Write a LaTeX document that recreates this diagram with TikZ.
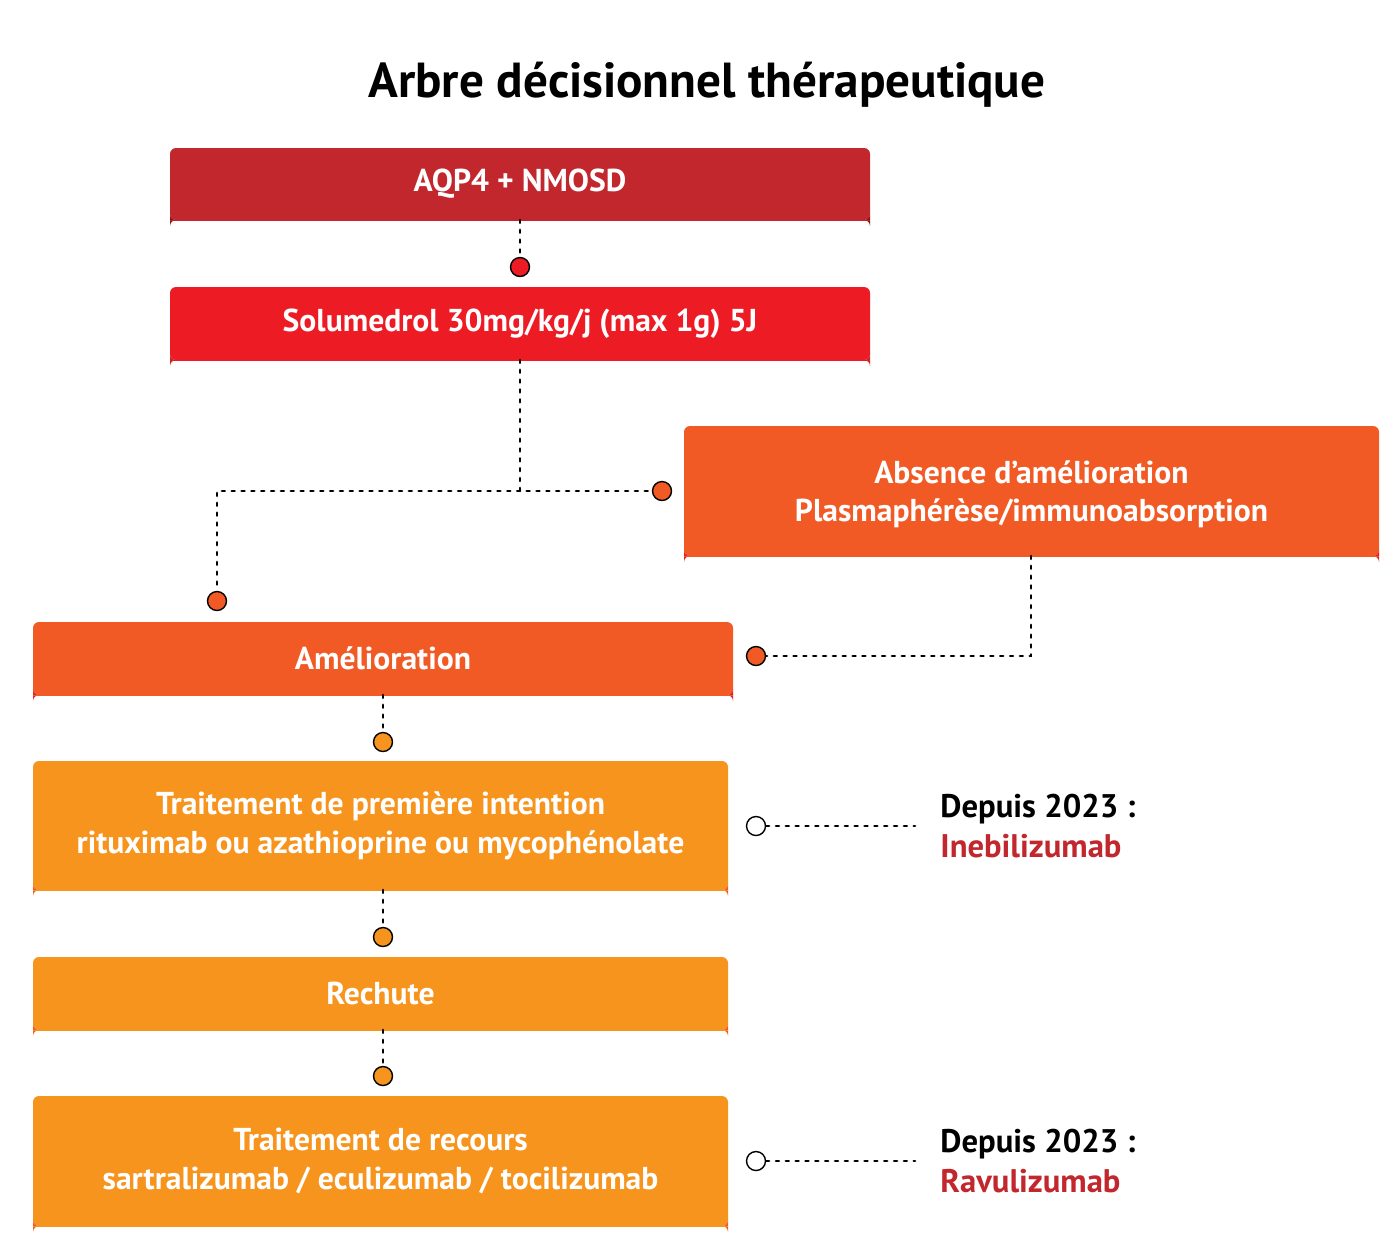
\documentclass[tikz,border=0pt]{standalone}
\usepackage{fontspec}
\setmainfont{PT Sans}
\usetikzlibrary{positioning,calc}
\definecolor{darkred}{HTML}{C1272D}
\definecolor{darkerred}{HTML}{8E0F14}
\definecolor{brightred}{HTML}{ED1C24}
\definecolor{redorange}{HTML}{F15A24}
\definecolor{lightorange}{HTML}{F7941D}
\tikzset{
  box/.style={text=white,font=\bfseries\fontsize{9pt}{11pt}\selectfont,align=center,inner sep=0pt},
  link/.style={dotted,thick,line cap=round},
  dot/.style={circle,draw=black,thin,minimum size=1.9mm,inner sep=0pt},
}
% filled box with a coloured bottom edge
\newcommand{\stepbox}[7]{% name, x1, y1, x2, y2, fill, edge
  \fill[#6,rounded corners=0.6mm] (#2,#3) rectangle (#4,#5);
  \fill[#7,rounded corners=0.6mm] (#2,#5) rectangle (#4,#5+0.05);
  \fill[#6] (#2,#5+0.05) rectangle (#4,#5+0.15);
  \coordinate (#1) at ($(#2,#3)!0.5!(#4,#5)+(0,0.03)$);
}
\begin{document}
\begin{tikzpicture}[x=0.1mm,y=-0.1mm]
  \useasboundingbox[fill=white] (0,0) rectangle (1400,1251);
  \node[font=\bfseries\fontsize{14pt}{16pt}\selectfont] (title) at (707,85) {Arbre décisionnel thérapeutique};

  \stepbox{aqp}{170}{148}{870}{220}{darkred}{darkerred}
  \node[box] (aqpt) at (aqp) {AQP4 + NMOSD};
  \stepbox{solu}{170}{287}{870}{360}{brightred}{darkred}
  \node[box] (solut) at (solu) {Solumedrol 30mg/kg/j (max 1g) 5J};
  \stepbox{abs}{684}{426}{1379}{556}{redorange}{brightred}
  \node[box,text depth=0pt] (abst) at (abs) {Absence d’amélioration\\Plasmaphérèse/immunoabsorption};
  \stepbox{amel}{33}{622}{733}{695}{redorange}{brightred}
  \node[box] (amelt) at (amel) {Amélioration};
  \stepbox{first}{33}{761}{728}{890}{lightorange}{redorange}
  \node[box] (firstt) at (first) {Traitement de première intention\\rituximab ou azathioprine ou mycophénolate};
  \stepbox{rech}{33}{957}{728}{1030}{lightorange}{redorange}
  \node[box] (recht) at (rech) {Rechute};
  \stepbox{recours}{33}{1096}{728}{1226}{lightorange}{redorange}
  \node[box] (recourst) at (recours) {Traitement de recours\\sartralizumab / eculizumab / tocilizumab};

  % connectors
  \node[dot,fill=brightred] (d1) at (520,267) {};
  \draw[link] (520,220) -- (d1);
  \coordinate (split) at (520,491);
  \node[dot,fill=redorange] (d2) at (662,491) {};
  \node[dot,fill=redorange] (d3) at (217,601) {};
  \draw[link] (520,360) -- (split) -- (d2);
  \draw[link] (split) -| (d3);
  \node[dot,fill=redorange] (d4) at (756,656) {};
  \draw[link] (1031,556) |- (d4);
  \node[dot,fill=lightorange] (d5) at (383,742) {};
  \draw[link] (383,695) -- (d5);
  \node[dot,fill=lightorange] (d6) at (383,937) {};
  \draw[link] (383,890) -- (d6);
  \node[dot,fill=lightorange] (d7) at (383,1076) {};
  \draw[link] (383,1030) -- (d7);

  % side notes
  \node[dot,fill=white] (o1) at (756,826) {};
  \coordinate (e1) at (915,826);
  \draw[link] (o1) -- (e1);
  \node[anchor=west,align=left,font=\bfseries\fontsize{9.3pt}{11.3pt}\selectfont] (n1) at (928,826) {Depuis 2023 :\\\textcolor{darkred}{Inebilizumab}};
  \node[dot,fill=white] (o2) at (756,1161) {};
  \coordinate (e2) at (915,1161);
  \draw[link] (o2) -- (e2);
  \node[anchor=west,align=left,font=\bfseries\fontsize{9.3pt}{11.3pt}\selectfont] (n2) at (928,1161) {Depuis 2023 :\\\textcolor{darkred}{Ravulizumab}};
\end{tikzpicture}
\end{document}
